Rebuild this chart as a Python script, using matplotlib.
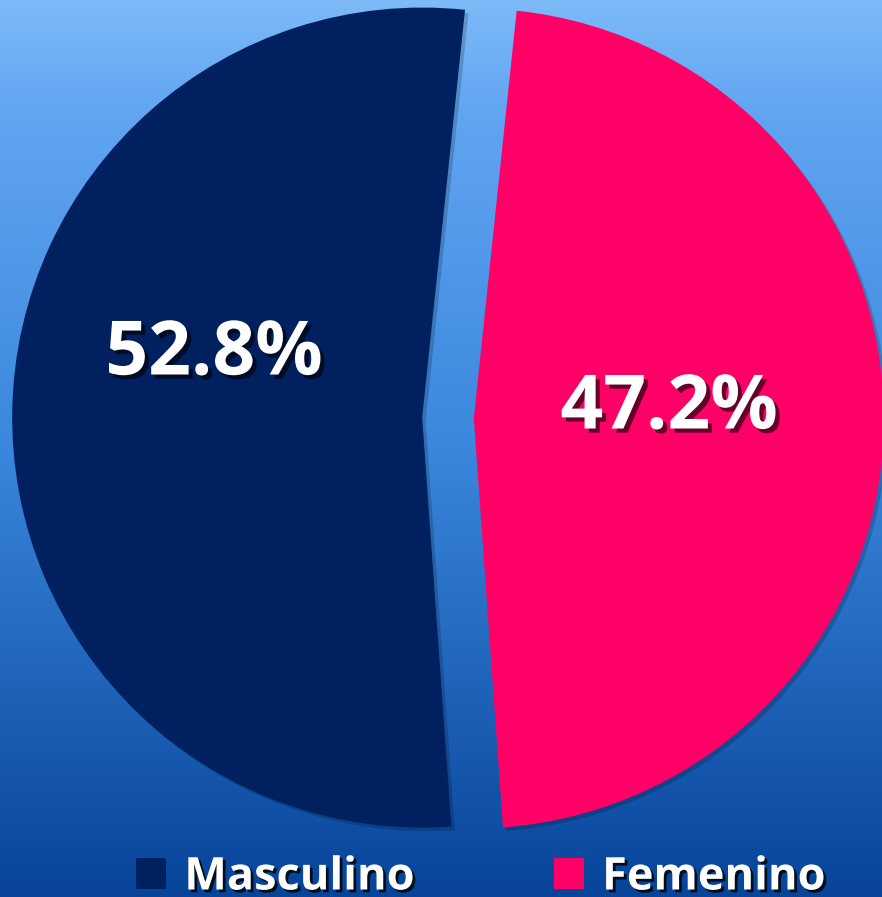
import matplotlib
matplotlib.use("Agg")
import matplotlib.pyplot as plt
import matplotlib.patheffects as pe
import numpy as np
from matplotlib.colors import LinearSegmentedColormap

# data
categories = ["Masculino", "Femenino"]
shares = [52.8, 47.2]
colors = ["#00205F", "#FF0066"]

W, H = 882, 897
R = 410.0          # pie radius in pixels
cx, cy = 448, 418  # pie centre in pixels (from top-left)

fig = plt.figure(figsize=(W / 100, H / 100), dpi=100)

# background gradient
bg = fig.add_axes([0, 0, 1, 1])
bg.set_axis_off()
cmap = LinearSegmentedColormap.from_list(
    "bg", [(0, "#7CBAF8"), (0.12, "#62A6F2"), (0.5, "#3A87DD"), (1, "#07449A")])
grad = np.linspace(0, 1, 256).reshape(-1, 1)
bg.imshow(grad, aspect="auto", cmap=cmap, extent=[0, 1, 0, 1])

ax = fig.add_axes([0, 0, 1, 1])
ax.set_axis_off()

wedges, texts = ax.pie(shares, colors=colors, startangle=84, counterclock=True,
                       explode=[0.063, 0.063], radius=1.0,
                       wedgeprops=dict(linewidth=0))
ax.set_aspect("auto")
ax.set_xlim(-cx / R, (W - cx) / R)
ax.set_ylim(-(H - cy) / R, cy / R)

# legend first, so the handles get no shadow
leg = fig.legend(wedges, categories, loc="center", bbox_to_anchor=(481 / W, 1 - 878 / H),
                 ncol=2, frameon=False, handlelength=0.66, handleheight=0.66,
                 handletextpad=0.4, columnspacing=3.1,
                 prop=dict(family="Open Sans", weight="bold", size=32.5))
for t in leg.get_texts():
    t.set_color("white")
    t.set_path_effects([pe.withSimplePatchShadow(offset=(2, -2), shadow_rgbFace="black", alpha=0.8)])

for w in wedges:
    w.set_path_effects([pe.SimplePatchShadow(offset=(2.5, -2.5), shadow_rgbFace="black", alpha=0.18),
                        pe.Normal()])

# percentage labels
label_pos = [(214, 355), (669, 409)]
for val, (px, py) in zip(shares, label_pos):
    ax.text((px - cx) / R, (cy - py) / R, f"{val:.1f}%", color="white",
            fontsize=54, fontweight="bold", family="Open Sans",
            ha="center", va="center",
            path_effects=[pe.withSimplePatchShadow(offset=(3, -3), shadow_rgbFace="black", alpha=0.6)])

fig.savefig("out.png", dpi=100)
